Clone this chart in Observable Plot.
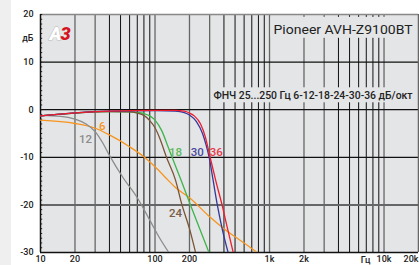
<!DOCTYPE html>
<html><head><meta charset="utf-8">
<script src="https://cdn.jsdelivr.net/npm/d3@7"></script>
<script src="https://cdn.jsdelivr.net/npm/@observablehq/plot@0.6"></script>
<style>
html,body{margin:0;padding:0;background:linear-gradient(to right,#efefef 0,#efefef 11px,#fff 11px);}
#c svg{display:block;background:transparent;}
</style></head><body><div id="c"></div>
<script>
// ---- data ----
const xTicks = [10,20,50,100,200,500,1000,2000,5000,10000];
const xTickLabels = ["10","20","50","100","200","500","1k","2k","5k","10k"];
const xLastTick = 20000, xLastLabel = "20k";
const yTicks = [20,10,0,-10,-20,-30];

const f6  = [10,20,30,40,60,80,100,130,150,200,300,400,500,600,780];
const db6 = [-2.2,-2.9,-3.9,-5.3,-7.8,-9.9,-12,-14.8,-16.3,-18.5,-22.5,-25,-26.7,-28,-30];
const f12  = [10,15,20,25,30,35,40,53,70,90,110,132];
const db12 = [-1.2,-1.4,-2.0,-3.0,-4.6,-7.0,-9.6,-14.4,-18.5,-23.2,-27,-30];
const f18  = [10,20,40,60,70,80,90,100,115,130,141,170,204,250,296];
const db18 = [-1.3,-0.7,-0.4,-0.45,-0.6,-0.8,-1.3,-2.2,-4.5,-7.8,-10,-15,-20,-25.5,-30];
const f24  = [10,20,40,60,70,80,90,100,110,126,151,172,200,226];
const db24 = [-1.3,-0.7,-0.4,-0.45,-0.7,-1.2,-2.3,-3.8,-6,-10,-14.8,-20,-25,-30];
const f30  = [10,20,40,100,150,180,200,230,260,280,297,320,350,390,435];
const db30 = [-1.3,-0.65,-0.3,-0.2,-0.3,-0.6,-1.1,-2.5,-5,-7.5,-10,-14.5,-20,-25.5,-30];
const f36  = [10,20,40,100,150,180,200,220,250,275,303,340,385,430,482];
const db36 = [-1.3,-0.65,-0.3,-0.15,-0.15,-0.3,-0.7,-1.3,-3,-5.7,-10,-15,-20,-25,-30];

const seriesNames  = ["6","12","18","24","30","36"];
const seriesColors = ["#f7941d","#8c8c8c","#3db54a","#7a5535","#35379a","#ee1d2e"];
const labelColors  = ["#f7941d","#8c8c8c","#5cbb5c","#7a5d45","#4a4aa0","#e8394a"];
const labelFreq = [34.6,24.7,151,151,234,343];
const labelDb   = [-3.4,-6.2,-8.9,-21.7,-8.9,-8.9];

const title = "Pioneer AVH-Z9100BT";
const note = "ФНЧ 25...250 Гц 6-12-18-24-30-36 дБ/окт";

// ---- build ----
const fs = [f6,f12,f18,f24,f30,f36], ds = [db6,db12,db18,db24,db30,db36];
const curves = [];
seriesNames.forEach((s,i)=>fs[i].forEach((f,j)=>curves.push({s, f, db: ds[i][j]})));
const labels = seriesNames.map((s,i)=>({s, f: labelFreq[i], db: labelDb[i], c: labelColors[i]}));

const grid = [];
for (let d = 10; d <= 10000; d *= 10) for (let m = 1; m <= 9; m++) { if (d*m <= 20000) grid.push({f: d*m, m}); }
grid.push({f: 20000, m: 2});
const gridDark = grid.filter(g => g.m > 3);
const gridGray = grid.filter(g => g.m <= 3 && g.f !== 10 && g.f !== 20000);
const minorY = d3.range(-30, 21, 1);

const chart = Plot.plot({
  width: 419, height: 265,
  marginLeft: 40, marginRight: 1, marginTop: 14, marginBottom: 13,
  style: {fontFamily: "Roboto, sans-serif", background: "transparent", overflow: "visible"},
  x: {type: "log", domain: [10, 20000]},
  y: {domain: [-30, 20]},
  color: {domain: seriesNames, range: seriesColors},
  marks: [
    Plot.frame({fill: "#e4e5e7"}),
    Plot.ruleX(gridGray, {x: "f", stroke: "#666", strokeWidth: 1.3}),
    Plot.ruleX(gridDark, {x: "f", stroke: "#111", strokeWidth: 1}),
    Plot.ruleY([10, 0, -10], {stroke: "#111", strokeWidth: 1.2}),
    Plot.ruleY([-20], {stroke: "#666", strokeWidth: 2}),
    Plot.ruleY([20], {stroke: "#888", strokeWidth: 1.5}),
    Plot.ruleX([20000], {stroke: "#666", strokeWidth: 1.5}),
    Plot.ruleY(minorY, {x1: 10, x2: 10.45, stroke: "#222", strokeWidth: 1}),
    Plot.ruleX([10], {stroke: "#111", strokeWidth: 1.5}),
    Plot.ruleY([-30], {stroke: "#111", strokeWidth: 1.5}),
    // knockouts for texts
    Plot.rect([{x1: 1030, x2: 19000, y1: 15.0, y2: 19.4}], {x1: "x1", x2: "x2", y1: "y1", y2: "y2", fill: "#e4e5e7"}),
    Plot.rect([{x1: 318, x2: 19000, y1: 1.45, y2: 4.6}], {x1: "x1", x2: "x2", y1: "y1", y2: "y2", fill: "#e4e5e7"}),
    Plot.line(curves, {x: "f", y: "db", z: "s", stroke: "s", strokeWidth: 1.3, curve: "monotone-x", clip: true}),
    Plot.text(labels, {x: "f", y: "db", text: "s", fill: "c", fontSize: 11.5, fontWeight: 500}),
    Plot.text([title], {x: 1084, y: 16.9, text: d => d, textAnchor: "start", fontSize: 13.5, fill: "#222", className: "ttl"}),
    Plot.text([note], {x: 324, y: 2.86, text: d => d, textAnchor: "start", fontSize: 10.5, fill: "#222", fontWeight: 500, className: "note"}),
    // logo
    Plot.text(["A"], {frameAnchor: "top-left", dx: 9, dy: 19.5, lineAnchor: "middle", textAnchor: "start", text: d => d, fontSize: 18, fontWeight: 900, fontStyle: "italic", fill: "#fff", stroke: "#bbb", strokeWidth: 1}),
    Plot.text(["3"], {frameAnchor: "top-left", dx: 20, dy: 19.5, lineAnchor: "middle", textAnchor: "start", text: d => d, fontSize: 18, fontWeight: 900, fontStyle: "italic", fill: "#d3141d"}),
    // axes
    Plot.axisX({ticks: xTicks, tickFormat: (d) => xTickLabels[xTicks.indexOf(d)], tickSize: 0, tickPadding: 3, fontSize: 9, fontWeight: 500, fill: "#222"}),
    Plot.text([xLastTick], {x: d => d, y: -30, dy: 3, lineAnchor: "top", textAnchor: "end", text: () => xLastLabel, fontSize: 9, fontWeight: 500, fill: "#222"}),
    Plot.axisY({ticks: yTicks, tickSize: 0, tickPadding: 7, fontSize: 9, fontWeight: 500, fill: "#222", tickFormat: d => d < 0 ? "-" + Math.abs(d) : String(d)}),
    Plot.text(["дБ"], {x: 10, y: 15, dx: -7, textAnchor: "end", text: d => d, fontSize: 9, fontWeight: 500, fill: "#222"}),
    Plot.text(["Гц"], {x: 6900, y: -30, dy: 8, text: d => d, fontSize: 9, fontWeight: 500, fill: "#222"})
  ]
});
document.getElementById("c").appendChild(chart);
const setLen = (cls, len) => { const t = chart.querySelector("g." + cls + " text"); if (t) { t.setAttribute("textLength", len); t.setAttribute("lengthAdjust", "spacingAndGlyphs"); } };
setLen("ttl", 139);
setLen("note", 199);
</script></body></html>
